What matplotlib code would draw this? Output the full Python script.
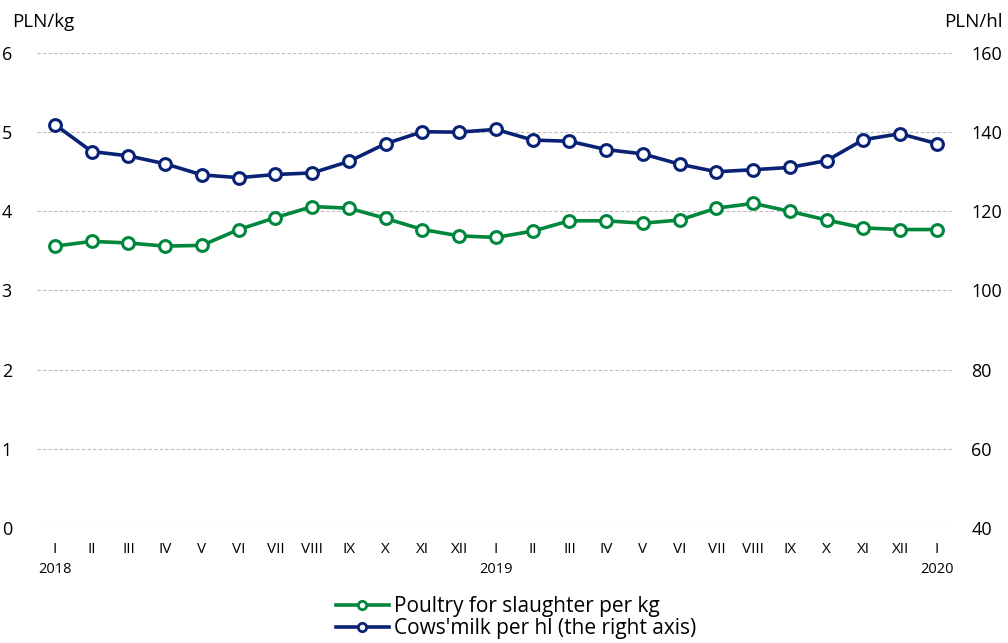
import matplotlib
matplotlib.use("Agg")
import matplotlib.pyplot as plt
import matplotlib.transforms as mtransforms
from matplotlib.lines import Line2D

plt.rcParams['font.family'] = ['Open Sans', 'DejaVu Sans']

months = ['I', 'II', 'III', 'IV', 'V', 'VI', 'VII', 'VIII', 'IX', 'X', 'XI', 'XII',
          'I', 'II', 'III', 'IV', 'V', 'VI', 'VII', 'VIII', 'IX', 'X', 'XI', 'XII', 'I']
years = {0: '2018', 12: '2019', 24: '2020'}

poultry = [3.56, 3.62, 3.60, 3.56, 3.57, 3.77, 3.92, 4.06, 4.04, 3.91, 3.77, 3.69,
           3.67, 3.75, 3.88, 3.88, 3.85, 3.89, 4.04, 4.10, 4.00, 3.89, 3.79, 3.77, 3.77]
milk = [141.9, 135.1, 134.0, 132.0, 129.2, 128.5, 129.3, 129.7, 132.6, 137.1, 140.1, 140.0,
        140.7, 138.0, 137.7, 135.6, 134.5, 131.9, 130.0, 130.5, 131.1, 132.8, 138.1, 139.6, 137.1]

green = '#00873d'
navy = '#0a2275'

fig = plt.figure(figsize=(10.08, 6.43), dpi=100)
ax = fig.add_axes([0.0367, 0.1789, 0.9077, 0.7387])
ax2 = ax.twinx()

x = list(range(len(months)))
ax.plot(x, poultry, '-o', color=green, lw=2.6, ms=8.5, mfc='white', mec=green, mew=2.2, zorder=3)
ax2.plot(x, milk, '-o', color=navy, lw=2.6, ms=8.5, mfc='white', mec=navy, mew=2.2, zorder=3)

ax.set_ylim(0, 6)
ax2.set_ylim(40, 160)
ax.set_xlim(-0.49, 24.41)
ax.set_yticks(range(0, 7))
ax2.set_yticks(range(40, 161, 20))
ax.grid(axis='y', color='#bbbbbb', ls=(0, (3, 2)), lw=0.8)
ax.set_axisbelow(True)

for a in (ax, ax2):
    for s in a.spines.values():
        s.set_visible(False)

ax.tick_params(axis='y', length=0, labelsize=13, pad=18)
ax2.tick_params(axis='y', length=0, labelsize=13, pad=14)
ax.set_xticks(x)
ax.set_xticklabels(months)
ax.tick_params(axis='x', length=0, labelsize=11, pad=10)

trans = mtransforms.blended_transform_factory(ax.transData, ax.transAxes)
for i, yr in years.items():
    ax.text(i, -0.087, yr, transform=trans, ha='center', va='center', fontsize=10.5)

fig.text(0.012, 0.966, 'PLN/kg', ha='left', va='center', fontsize=13.5)
fig.text(0.995, 0.966, 'PLN/hl', ha='right', va='center', fontsize=13.5)

handles = [Line2D([], [], color=green, lw=2.6, marker='o', ms=6, mfc='white', mec=green, mew=2),
           Line2D([], [], color=navy, lw=2.6, marker='o', ms=6, mfc='white', mec=navy, mew=2)]
labels = ['Poultry for slaughter per kg', "Cows'milk per hl (the right axis)"]
fig.legend(handles, labels, loc='upper center',
           bbox_to_anchor=(0.512, 0.073), frameon=False, fontsize=15,
           handlelength=2.55, handletextpad=0.25, labelspacing=0.05,
           borderaxespad=0, borderpad=0)

fig.savefig('out.png', dpi=100)
